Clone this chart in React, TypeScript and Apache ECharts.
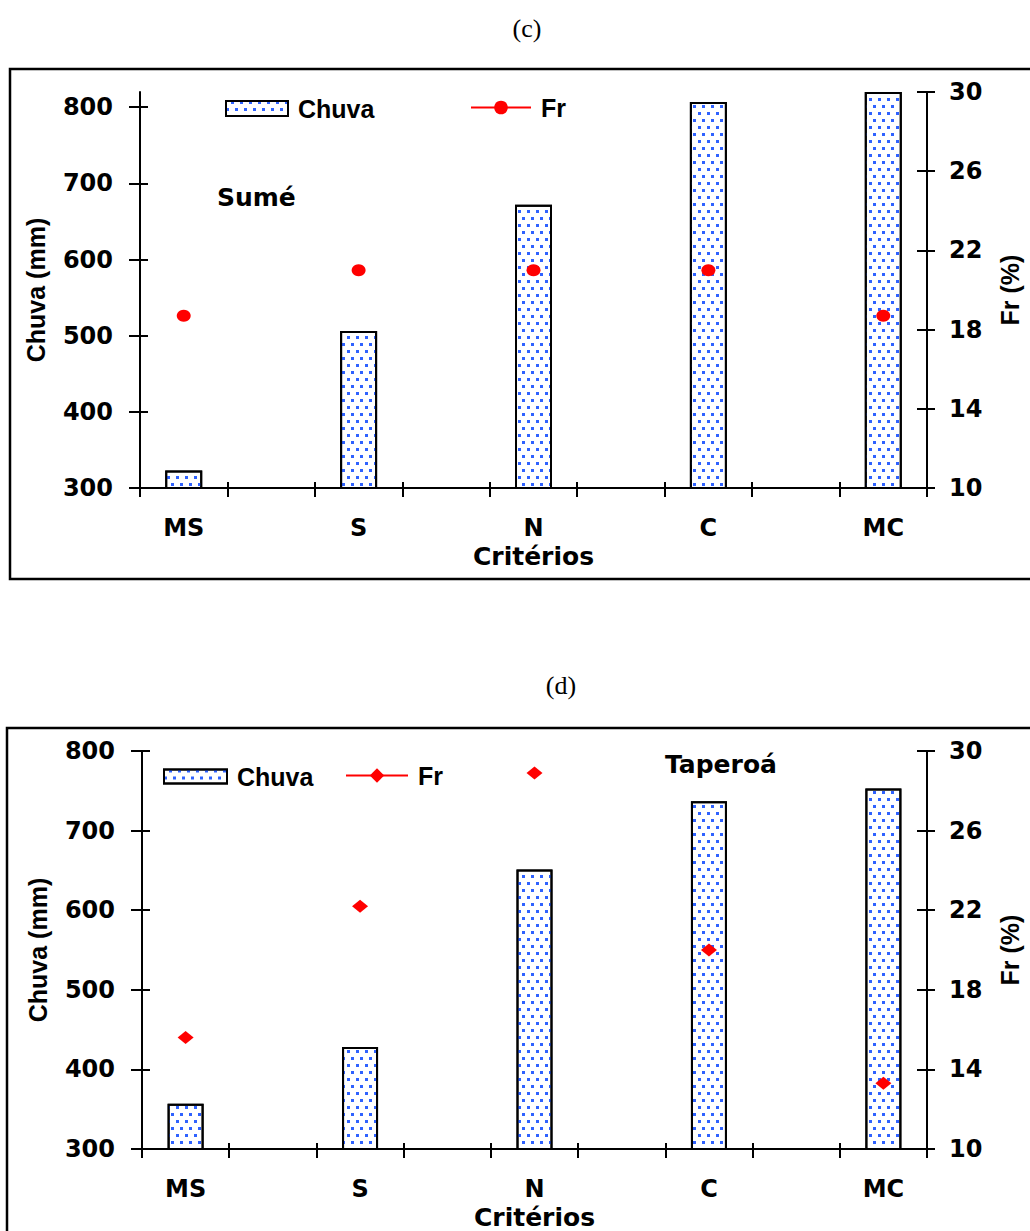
import React, { useEffect, useRef } from 'react';
import * as echarts from 'echarts';

// ---- data ----
const criterios = ['MS', 'S', 'N', 'C', 'MC'];
const chuvaSume = [323, 506, 672, 807, 820];
const frSume = [18.7, 21.0, 21.0, 21.0, 18.7];
const chuvaTaperoa = [357, 428, 651, 737, 753];
const frTaperoa = [15.6, 22.2, 28.9, 20.0, 13.3];
const chuvaTicks = [300, 400, 500, 600, 700, 800];
const frTicks = [10, 14, 18, 22, 26, 30];
const panelTitles = ['(c)', '(d)'];
const stationNames = ['Sumé', 'Taperoá'];
const seriesNames = ['Chuva', 'Fr'];
const xAxisName = 'Critérios';
const yLeftName = 'Chuva (mm)';
const yRightName = 'Fr (%)';

// categories interleaved with empty slots (bars occupy every other slot)
const slotCategories: string[] = criterios.flatMap((c, i) => (i < criterios.length - 1 ? [c, ''] : [c]));
const slots = (arr: number[]) => arr.flatMap((v, i) => (i < arr.length - 1 ? [v, null] : [v]));

const FONT = "'Liberation Sans', Arial, Helvetica, sans-serif";
const WIDE = "'DejaVu Sans', Verdana, sans-serif";
const BLACK = '#000000';
const RED = '#ff0000';
const BLUE = '#2f62ff';

const lineStyle = { color: BLACK, width: 2 };
const boldText = { color: BLACK, fontFamily: FONT, fontWeight: 'bold' as const, fontSize: 25 };
const wideText = { color: BLACK, fontFamily: WIDE, fontWeight: 'bold' as const, fontSize: 24 };

function makeXAxes(gridIndex: number) {
  const base = {
    type: 'category',
    gridIndex,
    data: slotCategories,
    position: 'bottom',
    boundaryGap: true,
  };
  return [
    {
      ...base,
      axisLine: { show: true, lineStyle },
      axisTick: { show: true, interval: 0, length: 9, lineStyle },
      axisLabel: { interval: 1, ...wideText, fontSize: 24, margin: 28 },
      name: xAxisName,
      nameLocation: 'middle',
      nameGap: 56,
      nameTextStyle: { ...wideText, fontSize: 25 },
    },
    {
      ...base,
      axisLine: { show: false },
      axisTick: { show: true, inside: true, interval: 0, length: 6, lineStyle },
      axisLabel: { show: false },
    },
  ];
}

function makeYAxes(gridIndex: number, leftMax: number) {
  const left = {
    type: 'value',
    gridIndex,
    min: 300,
    max: leftMax,
    interval: 100,
    position: 'left',
    splitLine: { show: false },
  };
  const right = {
    type: 'value',
    gridIndex,
    min: 10,
    max: 30,
    interval: 4,
    position: 'right',
    splitLine: { show: false },
  };
  const fmtLeft = (v: number) => (chuvaTicks.includes(v) ? String(v) : '');
  return [
    {
      ...left,
      axisLine: { show: true, lineStyle },
      axisTick: { show: true, length: 11, lineStyle, customValues: chuvaTicks },
      axisLabel: { ...wideText, fontSize: 24, margin: 27, customValues: chuvaTicks, formatter: fmtLeft },
      name: yLeftName,
      nameLocation: 'middle',
      nameRotate: 90,
      nameGap: 92,
      nameTextStyle: { ...boldText },
    },
    {
      ...right,
      axisLine: { show: true, lineStyle },
      axisTick: { show: true, length: 8, lineStyle, customValues: frTicks },
      axisLabel: { ...wideText, fontSize: 24, margin: 22, customValues: frTicks },
      name: yRightName,
      nameLocation: 'middle',
      nameRotate: 90,
      nameGap: 70,
      nameTextStyle: { ...boldText },
    },
    {
      ...left,
      axisLine: { show: false },
      axisTick: { show: true, inside: true, length: 8, lineStyle, customValues: chuvaTicks },
      axisLabel: { show: false },
    },
    {
      ...right,
      axisLine: { show: false },
      axisTick: { show: true, inside: true, length: 10, lineStyle, customValues: frTicks },
      axisLabel: { show: false },
    },
  ];
}

const barItemStyle = {
  color: '#ffffff',
  borderColor: BLACK,
  borderWidth: 2,
  decal: {
    symbol: 'rect',
    symbolSize: 1,
    color: BLUE,
    backgroundColor: '#ffffff',
    dashArrayX: [
      [3, 6],
      [0, 5, 3, 1],
    ],
    dashArrayY: [3, 4],
    rotation: 0,
  },
};

const legendFormatter = (name: string) => name.split('_')[0];
const legendTextStyle = { ...boldText, padding: [0, 0, 0, 5] };

export default function App() {
  const ref = useRef<HTMLDivElement>(null);

  useEffect(() => {
    if (!ref.current) return;
    const chart = echarts.init(ref.current, null, { renderer: 'svg' });

    const option = {
      animation: false,
      backgroundColor: '#ffffff',
      grid: [
        { left: 140, top: 92, width: 788, height: 396 },
        { left: 142, top: 751, width: 785, height: 399 },
      ],
      xAxis: [...makeXAxes(0), ...makeXAxes(1)],
      yAxis: [...makeYAxes(0, 820), ...makeYAxes(1, 800)],
      legend: [
        {
          data: [seriesNames[0] + '_c'],
          left: 225,
          top: 96,
          itemWidth: 62,
          itemHeight: 15,
          icon: 'rect',
          padding: 0,
          selectedMode: false,
          formatter: legendFormatter,
          textStyle: legendTextStyle,
        },
        {
          data: [seriesNames[1] + '_c'],
          left: 470,
          top: 95,
          itemWidth: 60,
          itemHeight: 17,
          padding: 0,
          selectedMode: false,
          formatter: legendFormatter,
          textStyle: legendTextStyle,
        },
        {
          data: [seriesNames[0] + '_d'],
          left: 163,
          top: 764,
          itemWidth: 63,
          itemHeight: 14,
          icon: 'rect',
          padding: 0,
          selectedMode: false,
          formatter: legendFormatter,
          textStyle: legendTextStyle,
        },
        {
          data: [seriesNames[1] + '_d'],
          left: 345,
          top: 763,
          itemWidth: 62,
          itemHeight: 18,
          padding: 0,
          selectedMode: false,
          formatter: legendFormatter,
          textStyle: legendTextStyle,
        },
      ],
      series: [
        {
          name: seriesNames[0] + '_c',
          type: 'bar',
          xAxisIndex: 0,
          yAxisIndex: 0,
          data: slots(chuvaSume),
          barWidth: 37,
          itemStyle: barItemStyle,
        },
        {
          name: seriesNames[1] + '_c',
          type: 'line',
          xAxisIndex: 0,
          yAxisIndex: 1,
          data: slots(frSume),
          symbol: 'circle',
          symbolSize: [14, 12],
          showSymbol: true,
          itemStyle: { color: RED },
          lineStyle: { color: RED, width: 2 },
          z: 5,
        },
        {
          name: seriesNames[0] + '_d',
          type: 'bar',
          xAxisIndex: 2,
          yAxisIndex: 4,
          data: slots(chuvaTaperoa),
          barWidth: 36,
          itemStyle: barItemStyle,
        },
        {
          name: seriesNames[1] + '_d',
          type: 'line',
          xAxisIndex: 2,
          yAxisIndex: 5,
          data: slots(frTaperoa),
          symbol: 'diamond',
          symbolSize: [16, 13],
          showSymbol: true,
          itemStyle: { color: RED },
          lineStyle: { color: RED, width: 2 },
          z: 5,
        },
      ],
      graphic: [
        {
          type: 'rect',
          shape: { x: 10, y: 69, width: 1040, height: 510 },
          style: { fill: 'none', stroke: BLACK, lineWidth: 2.5 },
          silent: true,
        },
        {
          type: 'rect',
          shape: { x: 7, y: 728, width: 1040, height: 520 },
          style: { fill: 'none', stroke: BLACK, lineWidth: 2.5 },
          silent: true,
        },
        {
          type: 'text',
          x: 527,
          y: 28,
          style: {
            text: panelTitles[0],
            fill: BLACK,
            font: "26px 'Liberation Serif', 'Times New Roman', serif",
            textAlign: 'center',
            textVerticalAlign: 'middle',
          },
        },
        {
          type: 'text',
          x: 561,
          y: 685,
          style: {
            text: panelTitles[1],
            fill: BLACK,
            font: "26px 'Liberation Serif', 'Times New Roman', serif",
            textAlign: 'center',
            textVerticalAlign: 'middle',
          },
        },
        {
          type: 'text',
          x: 217,
          y: 197,
          style: {
            text: stationNames[0],
            fill: BLACK,
            font: `bold 25px ${WIDE}`,
            textAlign: 'left',
            textVerticalAlign: 'middle',
          },
        },
        {
          type: 'text',
          x: 665,
          y: 764,
          style: {
            text: stationNames[1],
            fill: BLACK,
            font: `bold 25px ${WIDE}`,
            textAlign: 'left',
            textVerticalAlign: 'middle',
          },
        },
      ],
    };

    chart.setOption(option as any);
    return () => {
      chart.dispose();
    };
  }, []);

  return (
    <div
      ref={ref}
      style={{ position: 'absolute', left: 0, top: 0, width: 1030, height: 1231, background: '#fff' }}
    />
  );
}
